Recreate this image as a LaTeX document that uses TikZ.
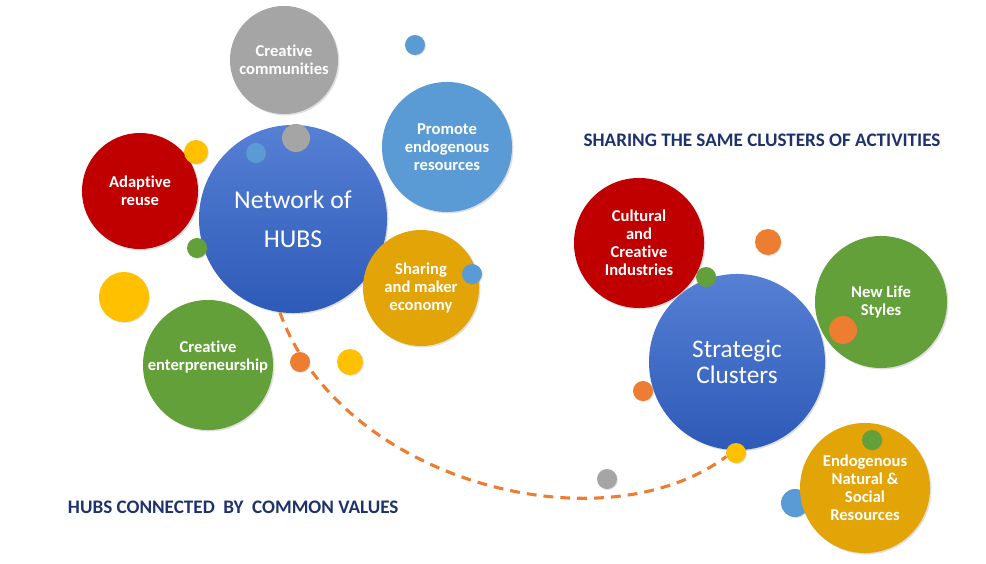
\documentclass[tikz,border=0pt]{standalone}
\usepackage{fontspec}
\setmainfont{Carlito}[Ligatures=NoCommon]
\usepackage{tikz}
\usetikzlibrary{shadows}
\definecolor{graytone}{RGB}{165,165,165}
\definecolor{skyblue}{RGB}{91,155,213}
\definecolor{redtone}{RGB}{192,0,0}
\definecolor{greentone}{RGB}{100,160,58}
\definecolor{goldtone}{RGB}{227,164,8}
\definecolor{yellowtone}{RGB}{255,192,0}
\definecolor{orangetone}{RGB}{237,125,49}
\definecolor{corelight}{RGB}{86,128,212}
\definecolor{coredark}{RGB}{46,90,184}
\definecolor{navyhead}{RGB}{30,50,108}

\begin{document}
\begin{tikzpicture}[
    x=0.025cm, y=-0.025cm,
    theme/.style={circle, inner sep=0pt, align=center, text=white,
        font=\bfseries\fontsize{11.8}{12.7}\selectfont,
        drop shadow={opacity=0.25, shadow xshift=1pt, shadow yshift=-1pt}},
    hub/.style={theme, top color=corelight, bottom color=coredark,
        font=\fontsize{18.3}{28}\selectfont},
    spot/.style={circle, inner sep=0pt, minimum size=0.5cm,
        drop shadow={opacity=0.25, shadow xshift=0.6pt, shadow yshift=-0.6pt}},
    headline/.style={text=navyhead, font=\bfseries\fontsize{13.6}{15}\selectfont},
    bond/.style={draw=orangetone, line width=2.2pt, dash pattern=on 7pt off 5pt}
]
    \fill[white] (0,0) rectangle (986,564);
    \useasboundingbox (0,0) rectangle (986,564);

    % left group
    \node[theme, fill=graytone, minimum size=2.7cm] (comm) at (284,60) {Creative\\communities};
    \node[theme, fill=skyblue, minimum size=3.25cm] (promote) at (447,147) {Promote\\endogenous\\resources};
    \node[theme, fill=redtone, minimum size=2.9cm] (reuse) at (140,191) {Adaptive\\reuse};
    \node[hub, minimum size=4.7cm] (hubs) at (293,219) {Network of\\HUBS};
    \node[theme, fill=goldtone, minimum size=2.9cm] (share) at (421,288) {Sharing\\and maker\\economy};
    \node[theme, fill=greentone, minimum size=3.25cm] (entre) at (208,365) {Creative\\enterpreneurship\\[0pt]};

    \node[spot, fill=skyblue] (s1) at (415,45) {};
    \node[spot, fill=graytone, minimum size=0.7cm] (s2) at (296,138) {};
    \node[spot, fill=skyblue] (s3) at (256,153) {};
    \node[spot, fill=skyblue] (s4) at (472,274) {};
    \node[spot, fill=yellowtone, minimum size=0.6cm] (s5) at (196,152) {};
    \node[spot, fill=greentone] (s6) at (197,248) {};
    \node[spot, fill=yellowtone, minimum size=1.25cm] (s7) at (124,297) {};
    \node[spot, fill=orangetone] (s8) at (300,362) {};
    \node[spot, fill=yellowtone, minimum size=0.65cm] (s9) at (350,362) {};

    % right group
    \node[theme, fill=redtone, minimum size=3.25cm] (cult) at (639,243) {Cultural\\and\\Creative\\Industries};
    \node[theme, fill=greentone, minimum size=3.3cm] (life) at (881,302) {New Life\\Styles};
    \node[hub, minimum size=4.4cm, font=\fontsize{18}{19}\selectfont] (strat) at (737,362) {Strategic\\Clusters};
    \node[spot, fill=skyblue, minimum size=0.7cm] (r8) at (795,503) {};
    \node[theme, fill=goldtone, minimum size=3.25cm] (endo) at (865,488) {Endogenous\\Natural \&\\Social\\Resources};

    \node[spot, fill=orangetone, minimum size=0.65cm] (r1) at (768,242) {};
    \node[spot, fill=greentone] (r2) at (706,277) {};
    \node[spot, fill=orangetone, minimum size=0.7cm] (r3) at (843,330) {};
    \node[spot, fill=orangetone] (r4) at (643,391) {};
    \node[spot, fill=yellowtone] (link) at (736,453) {};
    \node[spot, fill=graytone] (r6) at (607,479) {};
    \node[spot, fill=greentone] (r7) at (872,440) {};

    \draw[bond] (hubs.262) .. controls (340,480) and (600,550) .. (link.200);

    \node[headline] (acts) at (762,140) {SHARING THE SAME CLUSTERS OF ACTIVITIES};
    \node[headline, anchor=west] (values) at (63,507) {HUBS CONNECTED\ \ BY\ \ COMMON VALUES};
\end{tikzpicture}
\end{document}
